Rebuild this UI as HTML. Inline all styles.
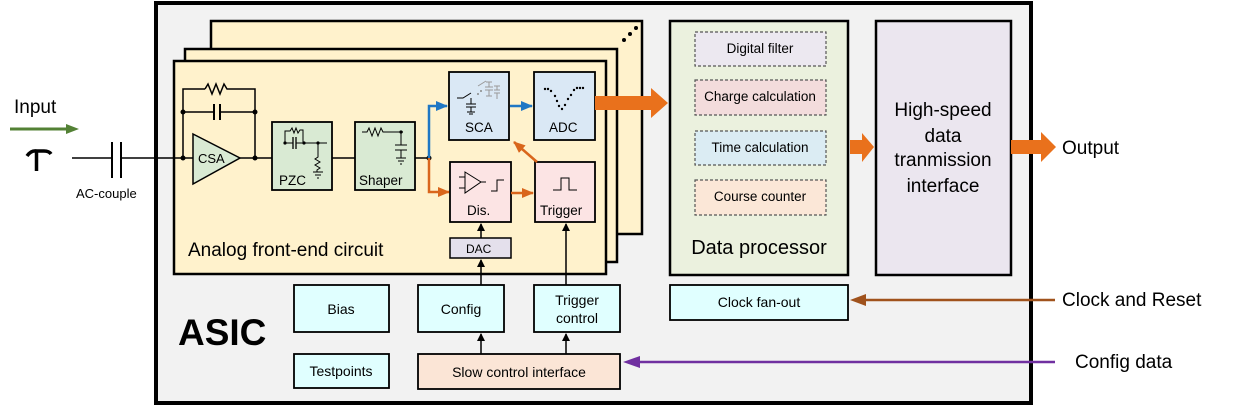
<!DOCTYPE html>
<html><head><meta charset="utf-8"><style>
html,body{margin:0;padding:0;background:#fff}
svg{display:block}
text{font-family:"Liberation Sans","DejaVu Sans",sans-serif;fill:#000}
</style></head><body>
<svg width="1237" height="407" viewBox="0 0 1237 407" xmlns="http://www.w3.org/2000/svg">
<defs>
<marker id="ab" markerWidth="8" markerHeight="8" refX="7" refY="4" orient="auto" markerUnits="userSpaceOnUse"><path d="M0,0 L8,4 L0,8z" fill="#000"/></marker>
<marker id="abl" markerWidth="12" markerHeight="10" refX="11" refY="5" orient="auto" markerUnits="userSpaceOnUse"><path d="M0,0 L12,5 L0,10z" fill="#1f77c4"/></marker>
<marker id="aor" markerWidth="12" markerHeight="10" refX="11" refY="5" orient="auto" markerUnits="userSpaceOnUse"><path d="M0,0 L12,5 L0,10z" fill="#d9661c"/></marker>
</defs>
<rect x="156" y="3" width="875" height="400" fill="#f2f2f2" stroke="#000" stroke-width="4"/>
<text x="14" y="113" font-size="19">Input</text>
<line x1="10" y1="129" x2="68" y2="129" stroke="#538135" stroke-width="3"/>
<path d="M66,124 L79,129 L66,134z" fill="#538135"/>
<path d="M27,156 Q31,150 37,151 L44,151 Q49,151 51,154" stroke="#000" stroke-width="3.5" fill="none"/>
<line x1="36.5" y1="151" x2="36.5" y2="171" stroke="#000" stroke-width="3.5"/>
<line x1="72" y1="158" x2="112" y2="158" stroke="#000" stroke-width="1.5"/>
<line x1="112" y1="142" x2="112" y2="178" stroke="#000" stroke-width="2"/>
<line x1="121" y1="142" x2="121" y2="178" stroke="#000" stroke-width="2"/>
<line x1="121" y1="158" x2="183" y2="158" stroke="#000" stroke-width="1.5"/>
<text x="76" y="198" font-size="13">AC-couple</text>
<rect x="211" y="21" width="431" height="213" fill="#fff2cc" stroke="#000" stroke-width="2.5"/>
<circle cx="636" cy="28" r="2" fill="#000"/><circle cx="630" cy="34" r="2" fill="#000"/><circle cx="624" cy="40" r="2" fill="#000"/>
<rect x="185" y="49" width="432" height="213" fill="#fff2cc" stroke="#000" stroke-width="2.5"/>
<rect x="174" y="61" width="432" height="213" fill="#fff2cc" stroke="#000" stroke-width="2.5"/>
<line x1="174" y1="158" x2="193" y2="158" stroke="#000" stroke-width="1.5"/>
<path d="M183,158 V89 H205 M229,89 H255 V158" stroke="#000" stroke-width="1.5" fill="none"/>
<path d="M205,89 l3,-5 l4,10 l4,-10 l4,10 l4,-10 l3,5 h2" stroke="#000" stroke-width="1.5" fill="none"/>
<path d="M183,112 H214 M220,112 H255" stroke="#000" stroke-width="1.5"/>
<path d="M214,104 V120 M220,104 V120" stroke="#000" stroke-width="2"/>
<circle cx="183" cy="112" r="2.5"/><circle cx="255" cy="112" r="2.5"/><circle cx="183" cy="158" r="2.5"/><circle cx="255" cy="158" r="2.5"/>
<path d="M193,134 L240,158 L193,184z" fill="#d9ead3" stroke="#000" stroke-width="1.5"/>
<text x="198" y="163" font-size="13">CSA</text>
<line x1="240" y1="158" x2="272" y2="158" stroke="#000" stroke-width="1.5"/>
<rect x="272" y="122" width="60" height="68" fill="#d9ead3" stroke="#000" stroke-width="1.8"/>
<path d="M285,143 V131 H290 l2,-3 l2,5 l2,-5 l2,5 l2,-3 h3 V143 M285,143 H293 M296,143 H318 H327 M318,143 V157 l-3,2 l5,3 l-5,3 l5,3 l-3,2 V172 M313,172 h10 M315,175 h6 M317,178 h2" stroke="#000" stroke-width="1" fill="none"/>
<path d="M293,137 V149 M296,137 V149" stroke="#000" stroke-width="1.3"/>
<circle cx="285" cy="143" r="1.6"/><circle cx="304" cy="143" r="1.6"/><circle cx="318" cy="143" r="1.6"/>
<text x="279" y="185" font-size="13.5">PZC</text>
<line x1="332" y1="158" x2="355" y2="158" stroke="#000" stroke-width="1.5"/>
<rect x="355" y="122" width="60" height="68" fill="#d9ead3" stroke="#000" stroke-width="1.8"/>
<path d="M362,132 h5 l2,-4 l3,8 l3,-8 l3,8 l3,-8 l2,4 h20 M401,132 V145 M395,145 h12 M395,150 h12 M401,150 V158 M396,158 h10 M398,161 h6 M400,164 h2" stroke="#000" stroke-width="1" fill="none"/>
<circle cx="401" cy="132" r="1.6"/>
<text x="359" y="185" font-size="13.5">Shaper</text>
<line x1="415" y1="158" x2="429" y2="158" stroke="#000" stroke-width="1.5"/>
<circle cx="429" cy="158" r="2.5"/>
<path d="M429,158 V106 H447" stroke="#1f77c4" stroke-width="2.5" fill="none" marker-end="url(#abl)"/>
<path d="M429,158 V192 H449" stroke="#d9661c" stroke-width="2.5" fill="none" marker-end="url(#aor)"/>
<rect x="449" y="72" width="60" height="68" fill="#dae8f5" stroke="#000" stroke-width="1.8"/>
<g stroke="#000" stroke-width="1" fill="none">
<path d="M457,98 h6 l8,-5 M471,98 V104 M466,104 h10 M466,107 h10 M471,107 V112 M467,112 h8 M469,114 h4"/>
</g>
<g stroke="#999" stroke-width="1" fill="none">
<path d="M478,86 l8,-5 M486,82 h6 M489,82 V87 M485,87 h8 M485,90 h8 M489,90 V96 M486,96 h6"/>
<path d="M494,86 h6 M497,86 V90 M494,90 h6 M494,93 h6 M497,93 V99"/>
</g>
<circle cx="481" cy="91" r="1" fill="#888"/><circle cx="478" cy="94" r="1" fill="#888"/>
<text x="465" y="132" font-size="13.5">SCA</text>
<line x1="510" y1="106" x2="532" y2="106" stroke="#1f77c4" stroke-width="2.5" marker-end="url(#abl)"/>
<rect x="534" y="72" width="61" height="68" fill="#dae8f5" stroke="#000" stroke-width="1.8"/>
<g fill="#000">
<circle cx="545" cy="89" r="1.2"/><circle cx="548" cy="89" r="1.2"/><circle cx="551" cy="91" r="1.2"/><circle cx="555" cy="96" r="1.2"/><circle cx="557" cy="101" r="1.2"/><circle cx="559" cy="106" r="1.2"/><circle cx="562" cy="109" r="1.2"/><circle cx="565" cy="105" r="1.2"/><circle cx="568" cy="99" r="1.2"/><circle cx="571" cy="95" r="1.2"/><circle cx="574" cy="90" r="1.2"/><circle cx="577" cy="88" r="1.2"/><circle cx="580" cy="88" r="1.2"/><circle cx="583" cy="88" r="1.2"/>
</g>
<text x="549" y="132" font-size="13.5">ADC</text>
<rect x="450" y="162" width="61" height="60" fill="#fce4e4" stroke="#000" stroke-width="1.8"/>
<path d="M465,172 L481,182 L465,193z M459,177 h6 M459,188 h6 M481,182 h5 M491,191 h6 V180 h7" stroke="#000" stroke-width="1" fill="none"/>
<text x="467" y="215" font-size="13.5">Dis.</text>
<line x1="511" y1="193" x2="533" y2="193" stroke="#d9661c" stroke-width="2.5" marker-end="url(#aor)"/>
<rect x="535" y="162" width="60" height="60" fill="#fce4e4" stroke="#000" stroke-width="1.8"/>
<path d="M553,190 h8 V178 h8 V190 h8" stroke="#000" stroke-width="1" fill="none"/>
<text x="540" y="215" font-size="13.5">Trigger</text>
<line x1="537" y1="162" x2="514" y2="142" stroke="#d9661c" stroke-width="2.5" marker-end="url(#aor)"/>
<rect x="450" y="238" width="61" height="20" fill="#e4e0ec" stroke="#000" stroke-width="1.5"/>
<text x="466" y="253" font-size="12">DAC</text>
<text x="188" y="256" font-size="19">Analog front-end circuit</text>
<path d="M595,96 H651 V88 L668,103 L651,118 V110 H595z" fill="#e9711c"/>
<rect x="670" y="21" width="178" height="254" fill="#ebf1de" stroke="#000" stroke-width="2.5"/>
<rect x="695" y="32" width="131" height="34" fill="#ece8f0" stroke="#555" stroke-width="1.2" stroke-dasharray="3,2"/>
<text x="760" y="53" font-size="13.5" text-anchor="middle">Digital filter</text>
<rect x="695" y="80" width="131" height="35" fill="#f3dcdc" stroke="#555" stroke-width="1.2" stroke-dasharray="3,2"/>
<text x="760" y="101" font-size="13.5" text-anchor="middle">Charge calculation</text>
<rect x="695" y="131" width="131" height="34" fill="#dbecf3" stroke="#555" stroke-width="1.2" stroke-dasharray="3,2"/>
<text x="760" y="152" font-size="13.5" text-anchor="middle">Time calculation</text>
<rect x="695" y="180" width="131" height="35" fill="#fbe7d7" stroke="#555" stroke-width="1.2" stroke-dasharray="3,2"/>
<text x="760" y="201" font-size="13.5" text-anchor="middle">Course counter</text>
<text x="759" y="254" font-size="20" text-anchor="middle">Data processor</text>
<path d="M850,140 H862 V133 L874,147 L862,162 V154 H850z" fill="#e9711c"/>
<rect x="876" y="21" width="135" height="254" fill="#ebe6ef" stroke="#000" stroke-width="2.5"/>
<g font-size="19" text-anchor="middle">
<text x="943" y="116">High-speed</text><text x="943" y="142">data</text><text x="943" y="166">tranmission</text><text x="943" y="192">interface</text>
</g>
<path d="M1011,140 H1041 V132 L1056,147 L1041,162 V154 H1011z" fill="#e9711c"/>
<text x="1062" y="154" font-size="19">Output</text>
<rect x="670" y="285" width="178" height="35" fill="#e0ffff" stroke="#000" stroke-width="1.8"/>
<text x="759" y="307" font-size="14" text-anchor="middle">Clock fan-out</text>
<line x1="1055" y1="300" x2="862" y2="300" stroke="#a0521c" stroke-width="2.5"/>
<path d="M866,294 L850,300 L866,306z" fill="#a0521c"/>
<text x="1062" y="306" font-size="19">Clock and Reset</text>
<line x1="1055" y1="362" x2="636" y2="362" stroke="#7030a0" stroke-width="2.5"/>
<path d="M640,356 L623,362 L640,368z" fill="#7030a0"/>
<text x="1075" y="368" font-size="19">Config data</text>
<text x="178" y="345" font-size="37" font-weight="bold">ASIC</text>
<rect x="294" y="285" width="95" height="47" fill="#e0ffff" stroke="#000" stroke-width="1.8"/>
<text x="341" y="314" font-size="14" text-anchor="middle">Bias</text>
<rect x="418" y="285" width="86" height="47" fill="#e0ffff" stroke="#000" stroke-width="1.8"/>
<text x="461" y="314" font-size="14" text-anchor="middle">Config</text>
<rect x="534" y="285" width="86" height="47" fill="#e0ffff" stroke="#000" stroke-width="1.8"/>
<text x="577" y="305" font-size="14" text-anchor="middle">Trigger</text>
<text x="577" y="323" font-size="14" text-anchor="middle">control</text>
<rect x="294" y="354" width="95" height="34" fill="#e0ffff" stroke="#000" stroke-width="1.8"/>
<text x="341" y="376" font-size="14" text-anchor="middle">Testpoints</text>
<rect x="418" y="354" width="202" height="35" fill="#fbe5d6" stroke="#000" stroke-width="1.8"/>
<text x="519" y="377" font-size="14" text-anchor="middle">Slow control interface</text>
<g stroke="#000" stroke-width="1.5" marker-end="url(#ab)">
<line x1="481" y1="354" x2="481" y2="334"/>
<line x1="566" y1="354" x2="566" y2="334"/>
<line x1="481" y1="285" x2="481" y2="260"/>
<line x1="481" y1="238" x2="481" y2="224"/>
<line x1="566" y1="285" x2="566" y2="224"/>
</g>
</svg>
</body></html>
